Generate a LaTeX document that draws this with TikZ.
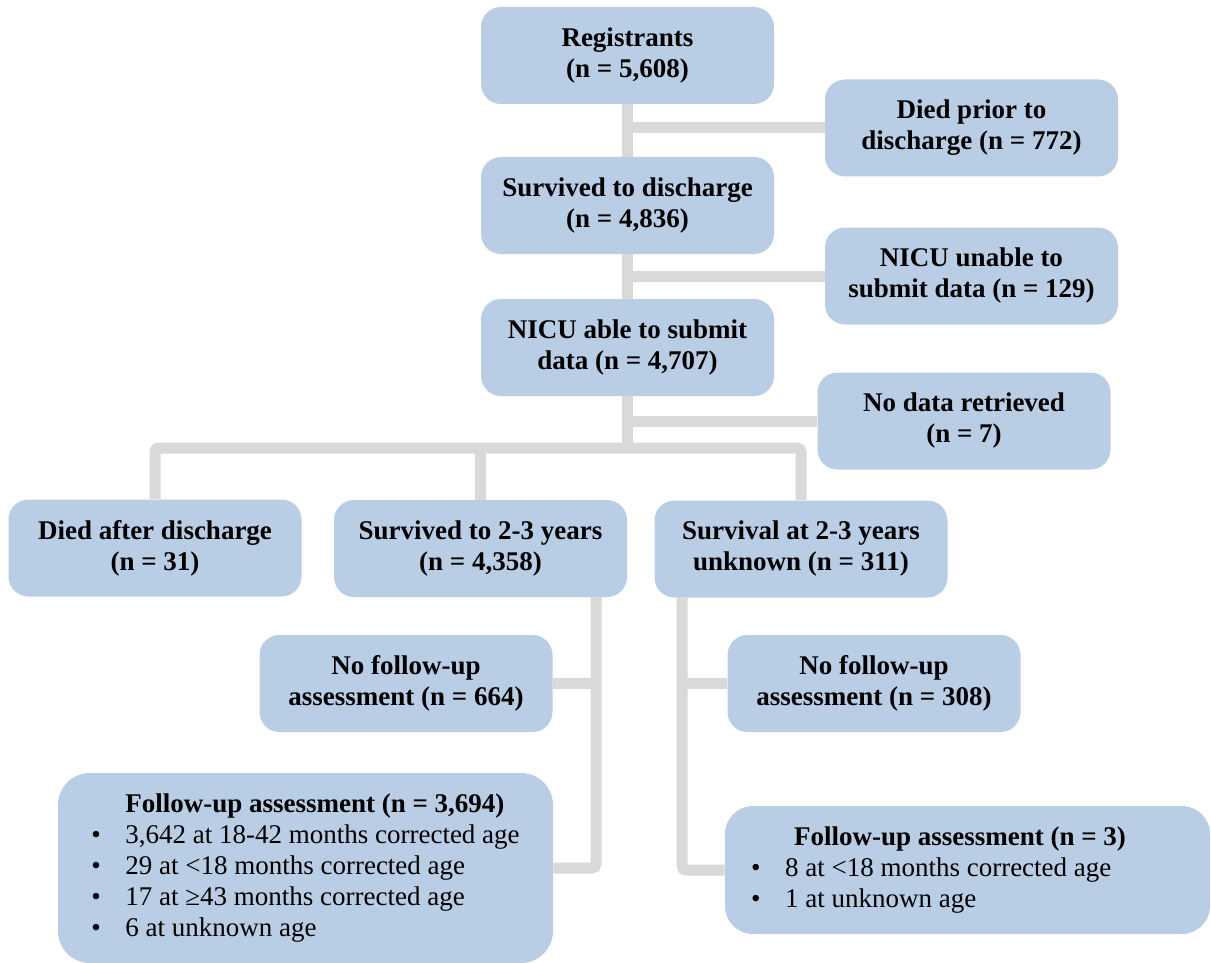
\documentclass[tikz,border=0pt]{standalone}
\usepackage{fontspec}
\setmainfont{Liberation Serif}
\usepackage{tikz}

\definecolor{boxblue}{HTML}{B9CDE5}
\definecolor{linegray}{HTML}{D9D9D9}
\newcommand{\fitem}[1]{\makebox[17pt][l]{\textbullet}#1}

\begin{document}
\begin{tikzpicture}[x=0.5pt,y=-0.5pt,
    flow node/.style={fill=boxblue,rounded corners=10pt,inner sep=0pt,align=center,
      minimum width=146.5pt,minimum height=48.5pt,font=\bfseries\fontsize{13.5}{15.5}\selectfont},
    list node/.style={fill=boxblue,rounded corners=14pt,inner sep=0pt,align=left,
      font=\fontsize{13.5}{15.5}\selectfont},
    link/.style={draw=linegray,line width=5.5pt,rounded corners=2pt}]

    \useasboundingbox (0,0) rectangle (1211,963);

    \node[flow node] (reg) at (627.5,55.5) {Registrants\\(n = 5,608)};
    \node[flow node] (surv) at (627.5,205.5) {Survived to discharge\\(n = 4,836)};
    \node[flow node] (able) at (627.5,347.5) {NICU able to submit\\data (n = 4,707)};
    \node[flow node] (diedpr) at (971.5,128) {Died prior to\\discharge (n = 772)};
    \node[flow node] (unable) at (971.5,276) {NICU unable to\\submit data (n = 129)};
    \node[flow node] (nodata) at (964,421) {No data retrieved\\(n = 7)};
    \node[flow node] (diedaf) at (155,548) {Died after discharge\\(n = 31)};
    \node[flow node] (surv2) at (480.5,548.5) {Survived to 2-3 years\\(n = 4,358)};
    \node[flow node] (unk) at (801,549) {Survival at 2-3 years\\unknown (n = 311)};
    \node[flow node] (nofu1) at (406,683.5) {No follow-up\\assessment (n = 664)};
    \node[flow node] (nofu2) at (874,683.5) {No follow-up\\assessment (n = 308)};
    \node[list node,minimum width=247.5pt,minimum height=95pt,rounded corners=16pt] (fu1) at (305.5,868)
        {\hspace*{17pt}\textbf{Follow-up assessment (n = 3,694)}\\
         \fitem{3,642 at 18-42 months corrected age}\\
         \fitem{29 at <18 months corrected age}\\
         \fitem{17 at ≥43 months corrected age}\\
         \fitem{6 at unknown age}};
    \node[list node,minimum width=242.5pt,minimum height=64pt] (fu2) at (967.5,870)
        {\hspace*{21.5pt}\textbf{Follow-up assessment (n = 3)}\hspace*{29pt}\\
         \fitem{8 at <18 months corrected age}\\
         \fitem{1 at unknown age}};

    \coordinate (split) at (627.5,448);
    \coordinate (s2drop) at (596,597);
    \coordinate (unkdrop) at (682,598);

    \draw[link] (reg) -- (surv);
    \draw[link] (reg.south |- diedpr.west) -- (diedpr.west);
    \draw[link] (surv) -- (able);
    \draw[link] (surv.south |- unable.west) -- (unable.west);
    \draw[link] (able.south) -- (split);
    \draw[link] (able.south |- nodata.west) -- (nodata.west);
    \draw[link] (diedaf.north) |- (split) -| (unk.north);
    \draw[link] (surv2.north) -- (surv2.north |- split);
    \draw[link] (s2drop) |- (fu1.east);
    \draw[link] (nofu1.east) -- (nofu1.east -| s2drop);
    \draw[link] (unkdrop) |- (fu2.west);
    \draw[link] (nofu2.west) -- (nofu2.west -| unkdrop);
\end{tikzpicture}
\end{document}
